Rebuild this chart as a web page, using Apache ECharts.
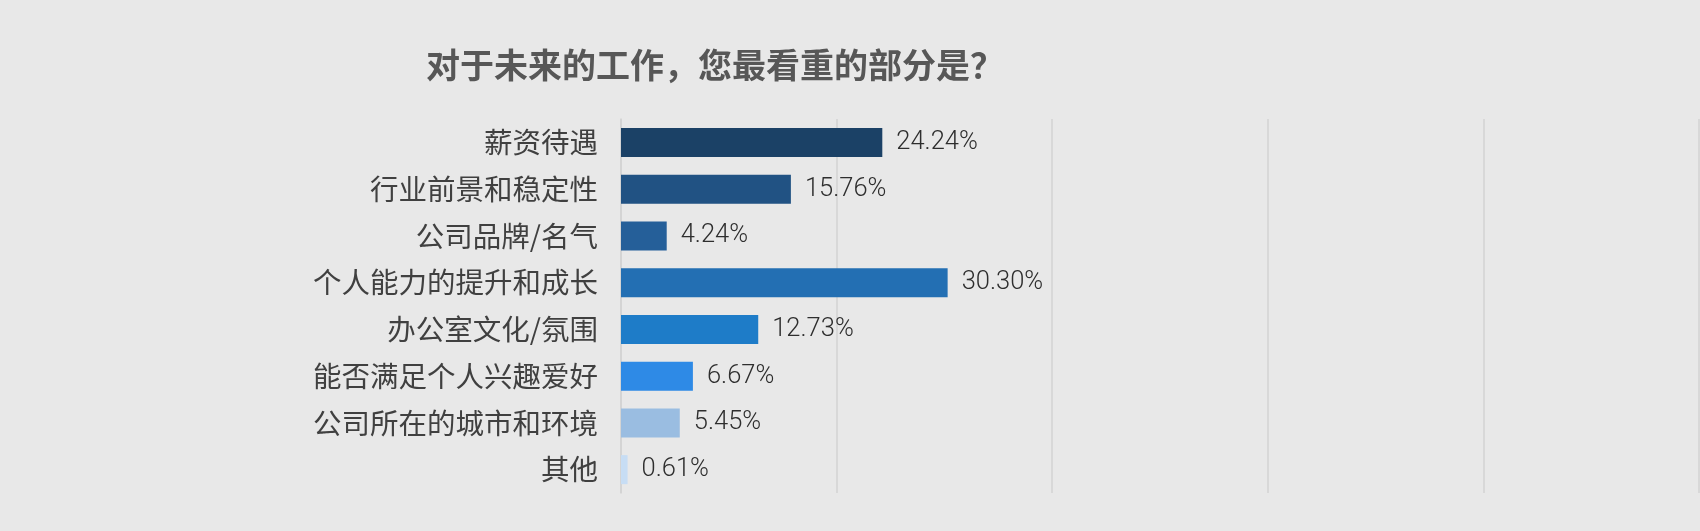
<!DOCTYPE html>
<html>
  <head>
    <meta charset="utf-8" />
    <title></title>
    <script src="https://cdn.jsdelivr.net/npm/echarts@6/dist/echarts.min.js"></script>
    <style type="text/css">
      html, body { margin: 0; padding: 0; background: #e8e8e8; }
      #demo { width: 1700px; height: 531px; }
    </style>
  </head>
  <body>
    <div id="demo"></div>
    <script type="text/javascript">
      // 数据
      var titleText = '对于未来的工作，您最看重的部分是？'
      var categories = [
        '薪资待遇',
        '行业前景和稳定性',
        '公司品牌/名气',
        '个人能力的提升和成长',
        '办公室文化/氛围',
        '能否满足个人兴趣爱好',
        '公司所在的城市和环境',
        '其他'
      ]
      var values = [24.24, 15.76, 4.24, 30.3, 12.73, 6.67, 5.45, 0.61]
      var barColors = [
        '#1b4166',
        '#215283',
        '#255f99',
        '#236fb3',
        '#1e7cc8',
        '#2e8ae6',
        '#9abde1',
        '#c7ddf4'
      ]

      var items = []
      for (var i = 0; i < values.length; i++) {
        items.push({ value: values[i], itemStyle: { color: barColors[i] } })
      }

      var chart = echarts.init(document.getElementById('demo'))
      var option = {
        backgroundColor: '#e8e8e8',
        animation: false,
        title: {
          text: titleText,
          left: 710,
          top: 43,
          textAlign: 'center',
          textStyle: {
            fontFamily: 'Noto Sans CJK SC',
            fontSize: 34,
            fontWeight: 'bold',
            color: '#575757'
          }
        },
        grid: {
          left: 621,
          right: 1,
          top: 119,
          bottom: 38
        },
        xAxis: {
          type: 'value',
          min: 0,
          max: 100,
          interval: 20,
          axisLabel: { show: false },
          axisLine: { show: false },
          axisTick: { show: false },
          splitLine: { lineStyle: { color: '#d3d3d3', width: 1.5 } }
        },
        yAxis: {
          type: 'category',
          inverse: true,
          data: categories,
          axisTick: { show: false },
          axisLine: { lineStyle: { color: '#d3d3d3', width: 1.5 } },
          axisLabel: {
            margin: 23,
            fontFamily: 'Noto Sans CJK SC',
            fontSize: 28.5,
            color: '#404040'
          }
        },
        series: [
          {
            type: 'bar',
            data: items,
            barWidth: 29,
            label: {
              show: true,
              position: 'right',
              distance: 14,
              fontFamily: 'Roboto',
              fontWeight: 300,
              fontSize: 25.5,
              color: '#2e2e2e',
              formatter: function (p) {
                return p.value.toFixed(2) + '%'
              }
            }
          }
        ]
      }
      chart.setOption(option)
    </script>
  </body>
</html>
